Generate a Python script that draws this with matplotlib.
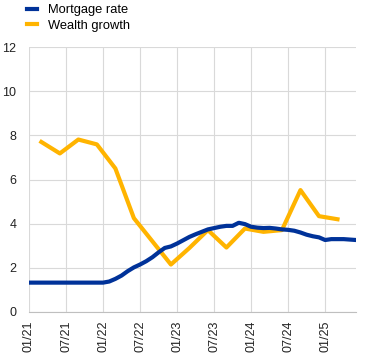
import matplotlib.pyplot as plt
import numpy as np

plt.rcParams['font.family'] = ['Liberation Sans', 'DejaVu Sans']
plt.rcParams['font.size'] = 9

# monthly mortgage rate, Jan 2021 .. Jun 2025
mortgage = [1.33] * 13 + [
    1.38, 1.50, 1.65, 1.85, 2.02, 2.15, 2.30, 2.48, 2.70, 2.90,
    2.97, 3.10, 3.25, 3.40, 3.52, 3.63, 3.74, 3.80, 3.86, 3.90,
    3.90, 4.04, 3.98, 3.86, 3.82, 3.80, 3.81, 3.78, 3.74, 3.72,
    3.68, 3.60, 3.50, 3.43, 3.38, 3.26, 3.30, 3.30, 3.30, 3.28,
    3.26]
mortgage_months = np.arange(len(mortgage))

# quarterly wealth growth (mid-quarter months)
wealth_months = np.arange(2, 51, 3)
wealth = [7.70, 7.18, 7.81, 7.59, 6.50, 4.25, 3.20, 2.15, 2.90, 3.71,
          2.92, 3.78, 3.63, 3.71, 5.52, 4.34, 4.20]

tick_pos = np.arange(0, 49, 6)
tick_labels = ['01/21', '07/21', '01/22', '07/22', '01/23',
               '07/23', '01/24', '07/24', '01/25']

fig = plt.figure(figsize=(3.73, 3.56), dpi=100)
ax = fig.add_axes([29/373, 1 - 312/356, (356 - 29)/373, (312 - 47)/356])

ax.plot(mortgage_months, mortgage, color='#003299', lw=3, label='Mortgage rate',
        solid_joinstyle='round', zorder=3)
ax.plot(wealth_months, wealth, color='#FFB400', lw=3, label='Wealth growth',
        solid_joinstyle='round', zorder=2)

ax.set_xlim(0, 53)
ax.set_ylim(0, 12)
ax.set_yticks(np.arange(0, 13, 2))
ax.set_xticks(tick_pos)
ax.set_xticklabels(tick_labels, rotation=90)
ax.grid(True, color='#d9d9d9', lw=0.8)
ax.set_axisbelow(True)
for s in ['top', 'right', 'left']:
    ax.spines[s].set_visible(False)
ax.spines['bottom'].set_color('#bfbfbf')
ax.tick_params(length=0, pad=6, colors='#222222')
ax.tick_params(axis='y', pad=9)

fig.legend(loc='upper left', bbox_to_anchor=(27/373, 1 - 4/356), frameon=False,
           handlelength=0.8, handletextpad=0.85, labelspacing=0.3,
           borderaxespad=0, borderpad=0, fontsize=9.3)

fig.savefig('out.png', dpi=100)
